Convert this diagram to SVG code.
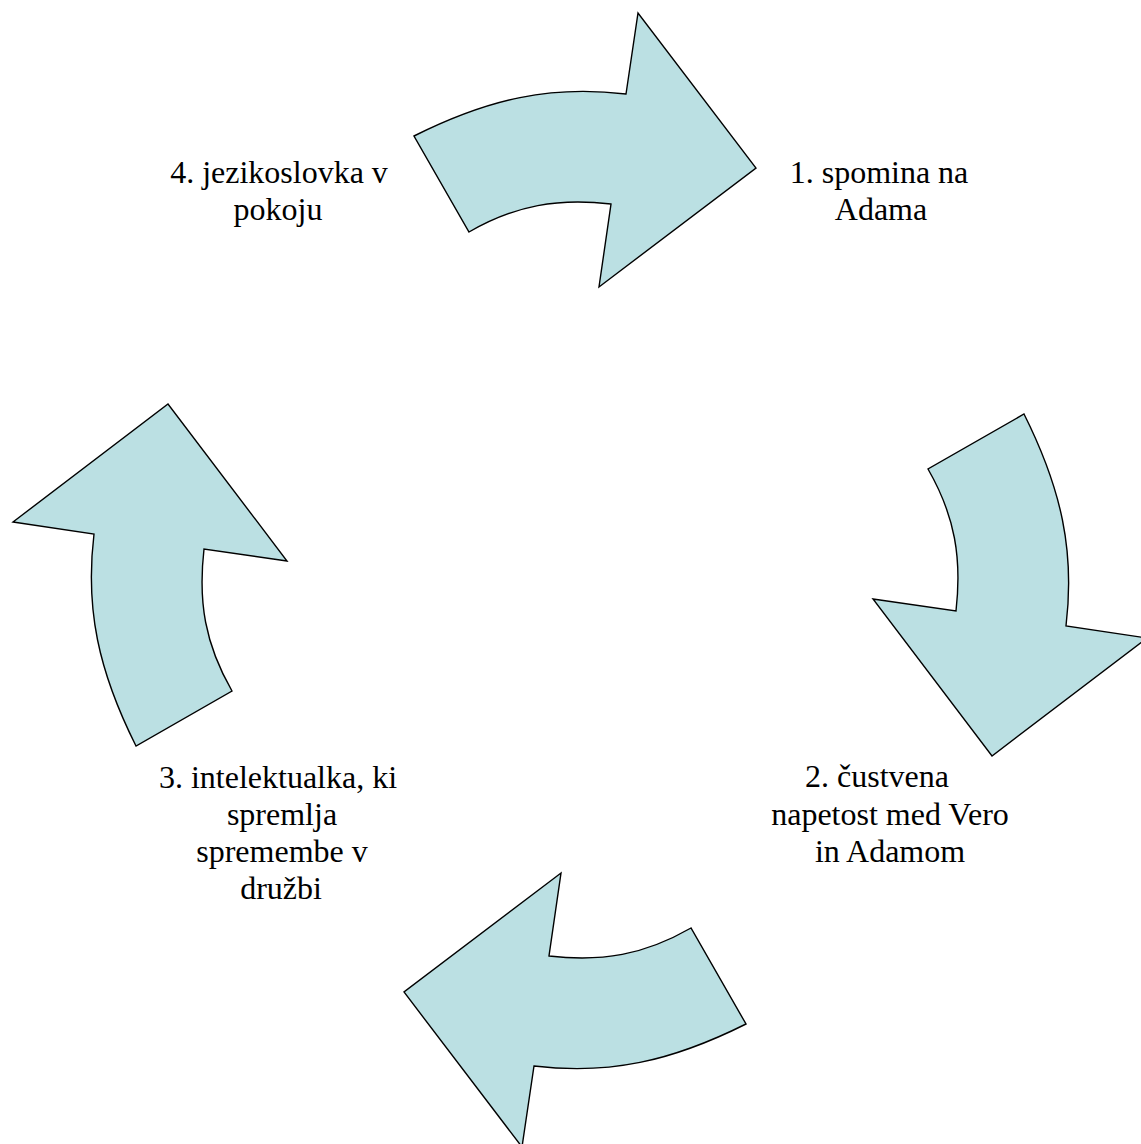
<svg xmlns="http://www.w3.org/2000/svg" width="1141" height="1144" viewBox="0 0 1141 1144">
  <style>
    .arrow { fill: #BBE0E3; stroke: #000000; stroke-width: 1.4; stroke-linejoin: miter; }
    .label { font-family: "Liberation Serif", "Times New Roman", serif; font-size: 32px; fill: #000000; text-anchor: middle; }
  </style>
  <defs>
    <!-- one curved arrow; the cycle reuses it rotated about the centre (580,580) -->
    <path id="curvedArrow" class="arrow" d="M414,136 C489,98.5 551,85 626,94 L638,13 L756,168 L599,287 L611,204 C558,198 516,205 469,232 Z"/>
  </defs>
  <rect width="1141" height="1144" fill="#FFFFFF"/>

  <g id="connectors">
    <use id="arrow-1-2" href="#curvedArrow"/>
    <use id="arrow-2-3" href="#curvedArrow" transform="rotate(90 580 580)"/>
    <use id="arrow-3-4" href="#curvedArrow" transform="rotate(180 580 580)"/>
    <use id="arrow-4-1" href="#curvedArrow" transform="rotate(270 580 580)"/>
  </g>

  <g id="node-1">
    <text class="label" x="879" y="183">1. spomina na</text>
    <text class="label" x="881" y="220">Adama</text>
  </g>

  <g id="node-2">
    <text class="label" x="877" y="787">2. čustvena</text>
    <text class="label" x="890" y="825">napetost med Vero</text>
    <text class="label" x="890" y="862">in Adamom</text>
  </g>

  <g id="node-3">
    <text class="label" x="278" y="788">3. intelektualka, ki</text>
    <text class="label" x="282" y="825">spremlja</text>
    <text class="label" x="282" y="862">spremembe v</text>
    <text class="label" x="281" y="899">družbi</text>
  </g>

  <g id="node-4">
    <text class="label" x="279" y="183">4. jezikoslovka v</text>
    <text class="label" x="278" y="220">pokoju</text>
  </g>
</svg>
